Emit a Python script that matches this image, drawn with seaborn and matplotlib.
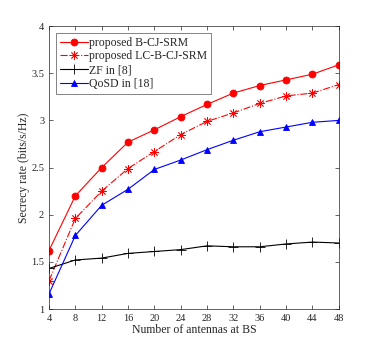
import pandas as pd
import numpy as np
import matplotlib
matplotlib.use("Agg")
import matplotlib.pyplot as plt
import seaborn as sns

antennas = [4, 8, 12, 16, 20, 24, 28, 32, 36, 40, 44, 48]
b_cj_srm = [1.62, 2.20, 2.50, 2.77, 2.90, 3.04, 3.17, 3.29, 3.37, 3.43, 3.49, 3.59]
lc_b_cj_srm = [1.30, 1.96, 2.25, 2.49, 2.67, 2.85, 2.99, 3.08, 3.18, 3.26, 3.29, 3.38]
zf = [1.43, 1.52, 1.54, 1.59, 1.61, 1.63, 1.67, 1.66, 1.66, 1.69, 1.71, 1.70]
qosd = [1.16, 1.78, 2.10, 2.27, 2.48, 2.58, 2.69, 2.79, 2.88, 2.93, 2.98, 3.00]

labels = ["proposed B-CJ-SRM", "proposed LC-B-CJ-SRM", "ZF in [8]", "QoSD in [18]"]

df = pd.DataFrame({"N": antennas * 4,
                   "rate": b_cj_srm + lc_b_cj_srm + zf + qosd,
                   "scheme": np.repeat(labels, len(antennas))})

sns.set_style("ticks")
plt.rcParams["font.family"] = ["Liberation Serif", "DejaVu Serif"]
plt.rcParams["xtick.direction"] = "in"
plt.rcParams["ytick.direction"] = "in"

fig = plt.figure(figsize=(3.74, 3.48), dpi=100)
ax = fig.add_axes([0.131, 0.112, 0.775, 0.813])

styles = {
    labels[0]: dict(color="#ff0000", marker="o", linestyle="-", ms=5),
    labels[1]: dict(color="#ff0000", marker=(8, 2, 0), linestyle="-.", ms=6),
    labels[2]: dict(color="black", marker="+", linestyle="-", ms=7),
    labels[3]: dict(color="#0000ff", marker="^", linestyle="-", ms=5),
}
for lab in labels:
    st = styles[lab]
    sns.lineplot(data=df[df.scheme == lab], x="N", y="rate", ax=ax, label=lab,
                 color=st["color"], marker=st["marker"], linestyle=st["linestyle"],
                 markersize=st["ms"], linewidth=0.8, markeredgewidth=0.6,
                 markeredgecolor=st["color"])

ax.set_xlim(4, 48)
ax.set_ylim(1, 4)
ax.set_xticks(antennas)
ax.set_yticks([1, 1.5, 2, 2.5, 3, 3.5, 4])
ax.set_yticklabels(["1", "1.5", "2", "2.5", "3", "3.5", "4"])
ax.tick_params(labelsize=7.5, length=3, width=0.5, top=True, right=True, colors="#262626")
for s in ax.spines.values():
    s.set_linewidth(0.5)
    s.set_color("#262626")
ax.set_xlabel("Number of antennas at BS", fontsize=8.5, labelpad=1, color="#262626")
ax.set_ylabel("Secrecy rate (bits/s/Hz)", fontsize=8.5, labelpad=1, color="#262626")

leg = ax.legend(loc="upper left", fontsize=8.5, frameon=True, fancybox=False,
                borderpad=0.3, labelspacing=0.15, handlelength=2.4, handletextpad=0.1,
                borderaxespad=0.6)
leg.get_frame().set_edgecolor("#262626")
leg.get_frame().set_linewidth(0.5)

fig.savefig("out.png", dpi=100)
